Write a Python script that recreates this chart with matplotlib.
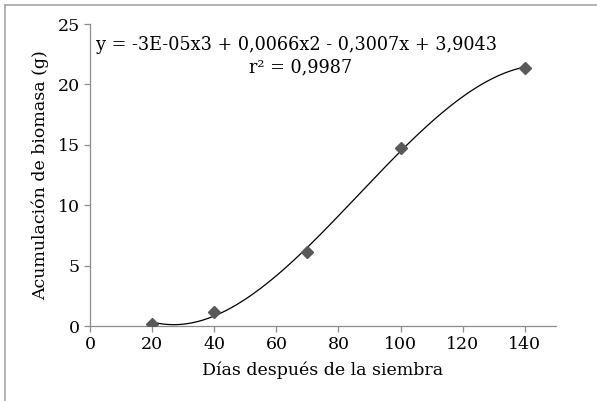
import matplotlib
matplotlib.use('Agg')
import matplotlib.pyplot as plt
import numpy as np
from matplotlib.lines import Line2D

dias = [20, 40, 70, 100, 140]
biomasa = [0.2, 1.2, 6.1, 14.7, 21.4]
x_ticks = [0, 20, 40, 60, 80, 100, 120, 140]
y_ticks = [0, 5, 10, 15, 20, 25]
ecuacion = 'y = -3E-05x3 + 0,0066x2 - 0,3007x + 3,9043'
r2_texto = 'r² = 0,9987'

plt.rcParams['font.family'] = ['DejaVu Serif']
plt.rcParams['font.size'] = 10.5

fig = plt.figure(figsize=(5.97, 4.01), dpi=100)
ax = fig.add_axes([0.151, 0.187, 0.78, 0.753])

# linea de tendencia polinomica de grado 3
coef = np.polyfit(dias, biomasa, 3)
xs = np.linspace(min(dias), max(dias), 200)
ax.plot(xs, np.polyval(coef, xs), color='black', lw=0.9)
ax.plot(dias, biomasa, linestyle='none', marker='D', markersize=6.5,
        color='#595959', zorder=3)

ax.set_xlim(0, 150)
ax.set_ylim(0, 25)
ax.set_xticks(x_ticks)
ax.set_yticks(y_ticks)
for side in ['top', 'right']:
    ax.spines[side].set_visible(False)
for side in ['left', 'bottom']:
    ax.spines[side].set_color('#8c8c8c')
    ax.spines[side].set_linewidth(0.9)
ax.tick_params(colors='#8c8c8c', labelcolor='black', length=4, width=0.9,
               labelsize=12.5)
ax.set_xlabel('Días después de la siembra', fontsize=12.5, labelpad=6)
ax.set_ylabel('Acumulación de biomasa (g)', fontsize=12.5, labelpad=6)

fig.text(296 / 597, 1 - 45 / 401, ecuacion, ha='center', va='center',
         fontsize=12.7)
fig.text(301 / 597, 1 - 67 / 401, r2_texto, ha='center', va='center',
         fontsize=12.7)

# marco de la figura (solo arriba e izquierda visibles)
fig.add_artist(Line2D([0.008, 1.0], [0.988, 0.988], transform=fig.transFigure,
                      color='#a6a6a6', lw=1.2))
fig.add_artist(Line2D([0.008, 0.008], [0.0, 0.988], transform=fig.transFigure,
                      color='#a6a6a6', lw=1.2))

fig.savefig('out.png', dpi=100)
